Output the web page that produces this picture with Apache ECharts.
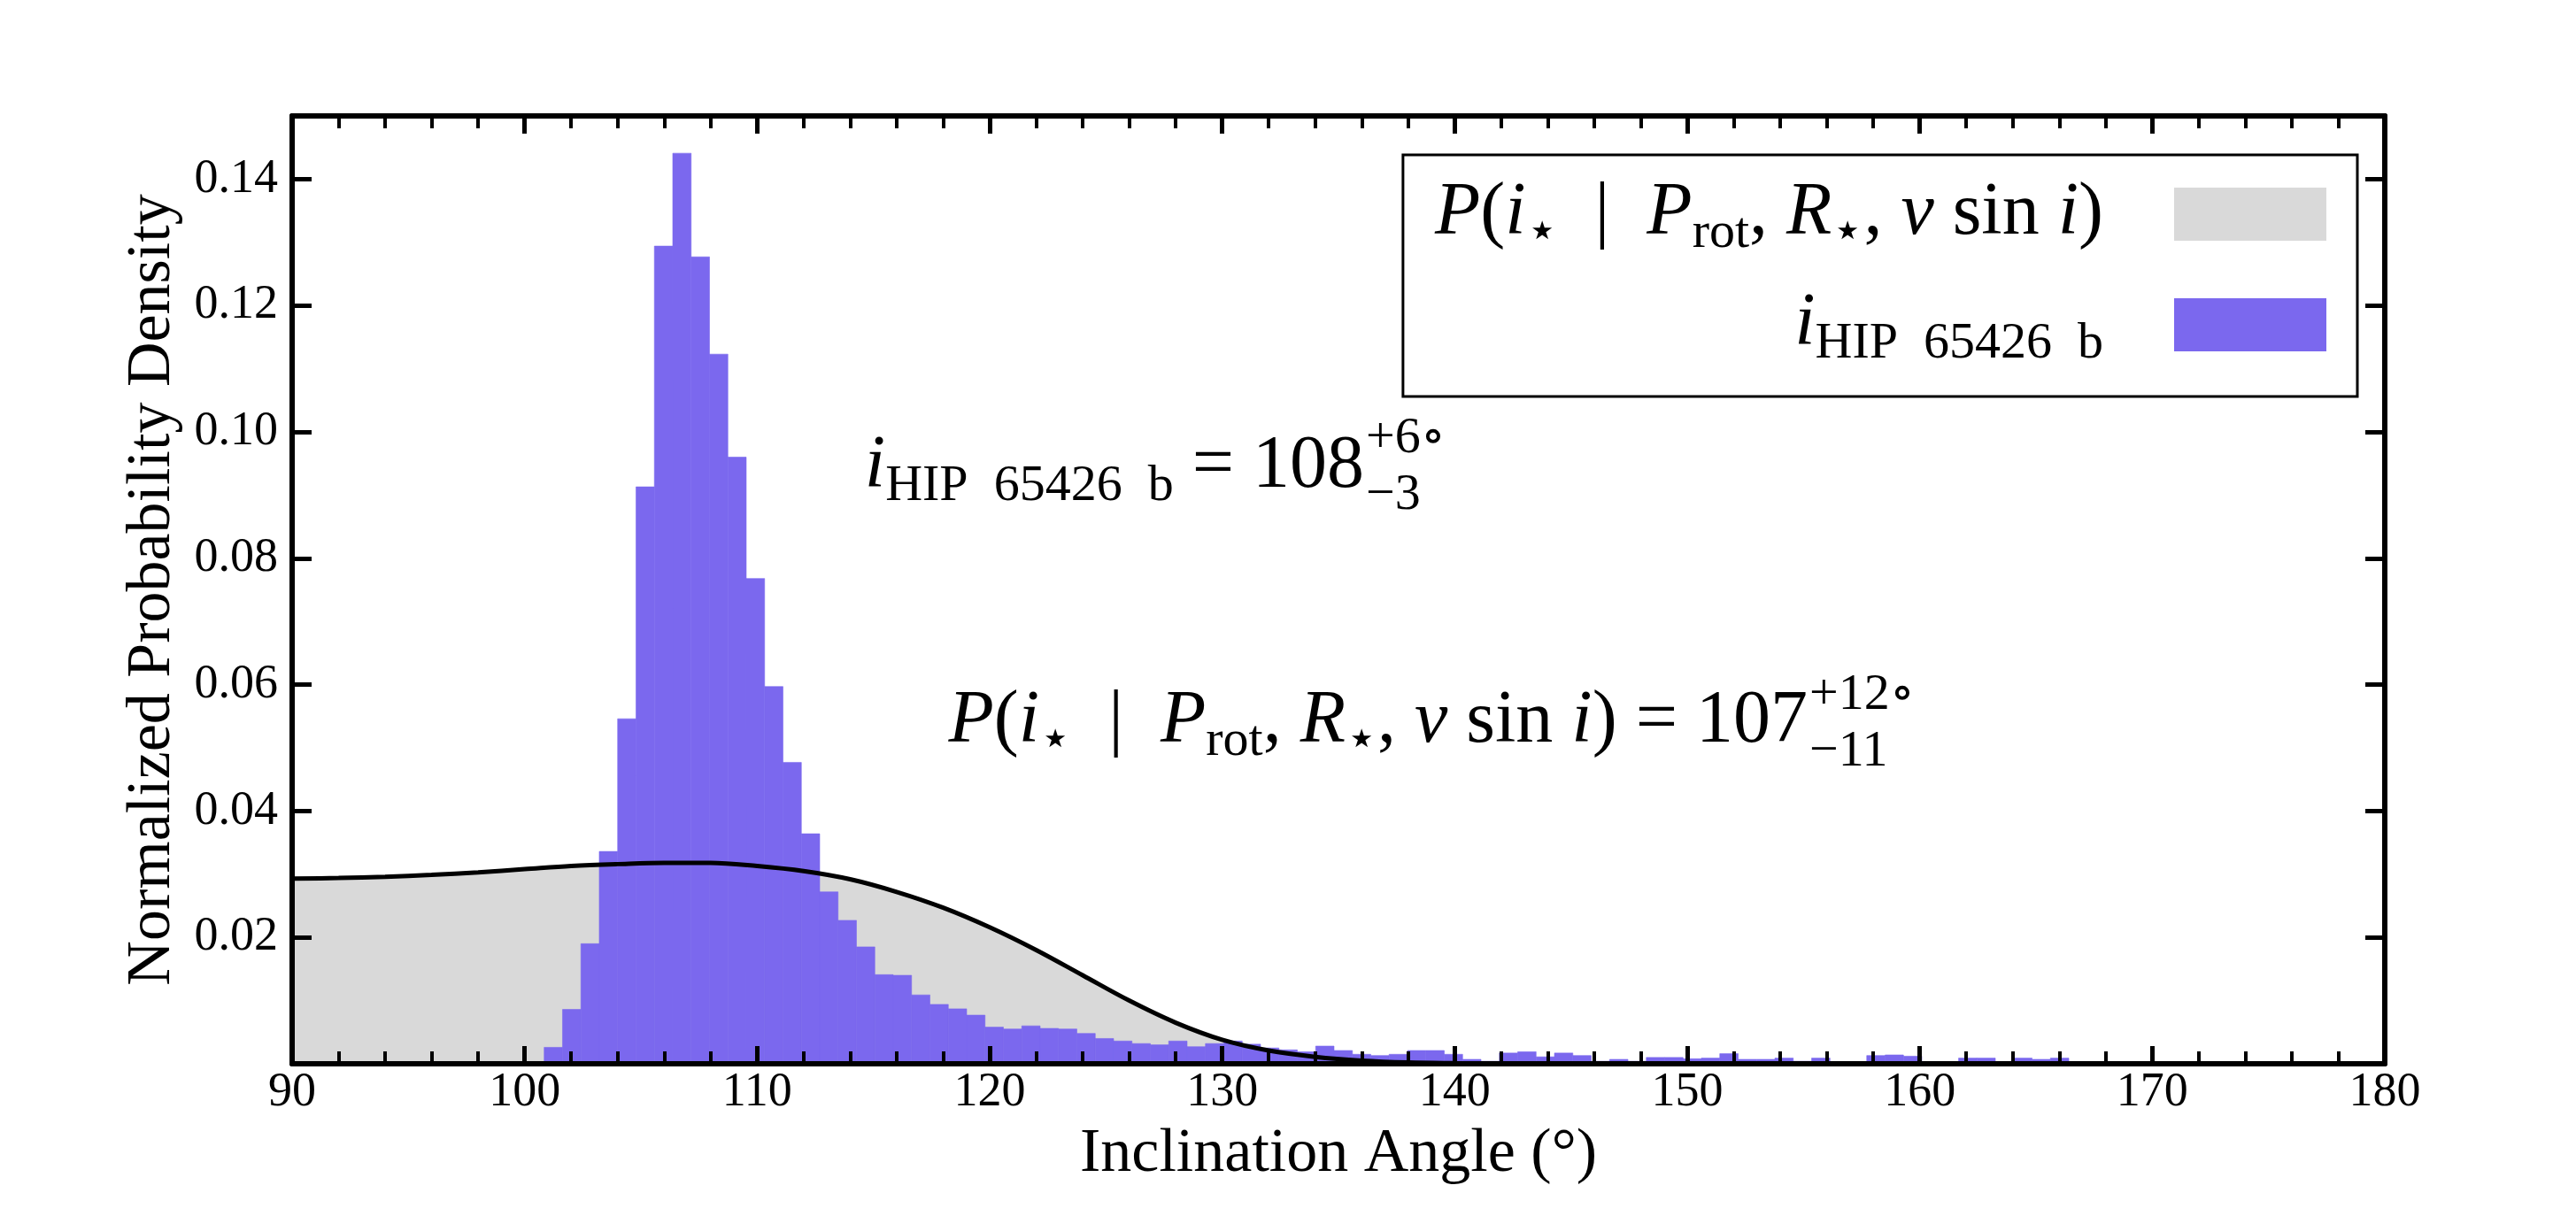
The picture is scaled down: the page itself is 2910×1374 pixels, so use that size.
<!DOCTYPE html>
<html>
<head>
<meta charset="utf-8">
<script src="https://cdn.jsdelivr.net/npm/echarts@6/dist/echarts.min.js"></script>
<style>
  html, body { margin: 0; padding: 0; background: #fff; }
  #chart { width: 2910px; height: 1374px; }
</style>
</head>
<body>
<div id="chart"></div>
<script>
// histogram of the planet inclination (100 bins, left edge + width)
const binStart = 100.84;
const binWidth = 0.79;
const binHeights = [
  0.0026, 0.0086, 0.0190, 0.0336, 0.0546, 0.0913, 0.1294, 0.1441, 0.1277, 0.1123,
  0.0960, 0.0768, 0.0597, 0.0477, 0.0364, 0.0272, 0.0227, 0.0185, 0.0141, 0.0140,
  0.0109, 0.0094, 0.0087, 0.0077, 0.0058, 0.0055, 0.0060, 0.0056, 0.0055, 0.0048,
  0.0040, 0.0036, 0.0032, 0.0030, 0.0036, 0.0027, 0.0032, 0.0036, 0.0031, 0.0025,
  0.0022, 0.0019, 0.0028, 0.0021, 0.0015, 0.0013, 0.0015, 0.0021, 0.0021, 0.0015,
  0.0007, 0.0004, 0.0017, 0.0019, 0.0011, 0.0017, 0.0013, 0.0004, 0.0007, 0.0004,
  0.0010, 0.0010, 0.0008, 0.0009, 0.0016, 0.0007, 0.0007, 0.0009, 0.0004, 0.0009,
  0.0003, 0.0003, 0.0013, 0.0014, 0.0012, 0.0003, 0.0003, 0.0009, 0.0009, 0.0003,
  0.0009, 0.0007, 0.0009, 0.0003, 0.0002, 0.0003, 0.0001, 0.0002, 0.0001, 0.0002,
  0.0001, 0.0001, 0.0002, 0.0001, 0.0001, 0.0001, 0.0001, 0.0000, 0.0001, 0.0001
];

// stellar inclination posterior (smooth curve)
const curveAngles = [90, 92, 94, 96, 98, 100, 102, 104, 106, 108, 110, 112, 114, 116, 118,
  120, 122, 124, 126, 128, 130, 132, 134, 136, 138, 140, 142, 144, 146, 150, 160, 170, 180];
const curveDensity = [0.0293, 0.0294, 0.0296, 0.0299, 0.0303, 0.0308, 0.0313, 0.0316, 0.0318,
  0.0318, 0.0313, 0.0305, 0.0292, 0.0272, 0.0247, 0.0216, 0.0180, 0.0140, 0.0100, 0.0065,
  0.0038, 0.0021, 0.0011, 0.0005, 0.0002, 0.0001, 0.00005, 0, 0, 0, 0, 0, 0];

const xMin = 90, xMax = 180, xStep = 10;
const yMin = 0, yMax = 0.15, yStep = 0.02;

const FONT = "'Liberation Serif', 'DejaVu Serif', serif";
const PURPLE = '#7b68ee';
const GREY = '#d9d9d9';

const priorName = 'P(i⋆ | Prot, R⋆, v sin i)';
const planetName = 'i HIP 65426 b';

const mathRich = {
  it: { fontFamily: FONT, fontSize: 84, fontStyle: 'italic', color: '#000' },
  rm: { fontFamily: FONT, fontSize: 84, color: '#000' },
  sub: { fontFamily: FONT, fontSize: 58, color: '#000', padding: [44, 0, 0, 0] },
  gap: { width: 75 }
};
const priorRich = '{it|P}{rm|(}{it|i}{sub|⋆}{rm|  |  }{it|P}{sub|rot}{rm|, }{it|R}{sub|⋆}{rm|, }{it|v}{rm| sin }{it|i}{rm|)}';
const planetRich = '{it|i}{sub|HIP  65426  b}';

const binData = binHeights.map((h, i) => [binStart + i * binWidth, binStart + (i + 1) * binWidth, h]);
const curveData = curveAngles.map((a, i) => [a, curveDensity[i]]);

const chart = echarts.init(document.getElementById('chart'));

const axisCommon = {
  type: 'value',
  z: 10,
  splitLine: { show: false },
  axisLine: { show: true, onZero: false, lineStyle: { color: '#000', width: 6 } },
  axisTick: { show: true, inside: true, length: 20, lineStyle: { color: '#000', width: 5 } }
};

chart.setOption({
  animation: false,
  backgroundColor: '#fff',
  grid: { left: 330, right: 216, top: 131, bottom: 172 },
  xAxis: [
    Object.assign({}, axisCommon, {
      min: xMin, max: xMax, interval: xStep, position: 'bottom',
      minorTick: { show: true, splitNumber: 5, length: 14, lineStyle: { color: '#000', width: 4 } },
      axisLabel: { fontFamily: FONT, fontSize: 54, color: '#000', margin: 6 },
      name: 'Inclination Angle (°)', nameLocation: 'middle', nameGap: 68,
      nameTextStyle: { fontFamily: FONT, fontSize: 70, color: '#000' }
    }),
    Object.assign({}, axisCommon, {
      min: xMin, max: xMax, interval: xStep, position: 'top',
      minorTick: { show: true, splitNumber: 5, length: 14, lineStyle: { color: '#000', width: 4 } },
      axisLabel: { show: false }
    })
  ],
  yAxis: [
    Object.assign({}, axisCommon, {
      min: yMin, max: yMax, interval: yStep, position: 'left',
      axisTick: { show: true, inside: true, length: 22, lineStyle: { color: '#000', width: 5 } },
      axisLabel: {
        fontFamily: FONT, fontSize: 54, color: '#000', margin: 16,
        formatter: v => {
          const k = v / yStep;
          return (v > 0 && Math.abs(k - Math.round(k)) < 1e-6) ? v.toFixed(2) : '';
        }
      },
      name: 'Normalized Probability Density', nameLocation: 'middle', nameGap: 122,
      nameTextStyle: { fontFamily: FONT, fontSize: 70, color: '#000' }
    }),
    Object.assign({}, axisCommon, {
      min: yMin, max: yMax, interval: yStep, position: 'right',
      axisTick: { show: true, inside: true, length: 22, lineStyle: { color: '#000', width: 5 } },
      axisLabel: { show: false }
    })
  ],
  legend: {
    orient: 'vertical', right: 247, top: 175, align: 'right',
    icon: 'rect', itemWidth: 172, itemHeight: 60, itemGap: 32,
    padding: [25, 35, 30, 36],
    borderColor: '#000', borderWidth: 3, borderRadius: 0, backgroundColor: '#fff',
    selectedMode: false,
    data: [
      { name: priorName, itemStyle: { color: GREY } },
      { name: planetName, itemStyle: { color: PURPLE } }
    ],
    formatter: name => (name === priorName ? priorRich : planetRich) + '{gap| }',
    textStyle: { fontFamily: FONT, color: '#000', rich: mathRich }
  },
  series: [
    {
      name: priorName, type: 'line', data: curveData, smooth: 0.35,
      symbol: 'none', z: 1, silent: true,
      itemStyle: { color: GREY },
      lineStyle: { width: 0, color: GREY },
      areaStyle: { color: GREY, opacity: 1 }
    },
    {
      name: planetName, type: 'custom', z: 2, silent: true,
      data: binData,
      encode: { x: [0, 1], y: 2 },
      itemStyle: { color: PURPLE },
      renderItem: (params, api) => {
        const p0 = api.coord([api.value(0), api.value(2)]);
        const p1 = api.coord([api.value(1), 0]);
        return {
          type: 'rect',
          shape: { x: p0[0], y: p0[1], width: p1[0] - p0[0], height: p1[1] - p0[1] },
          style: { fill: PURPLE, stroke: PURPLE, lineWidth: 0.6 }
        };
      }
    },
    {
      name: 'curve', type: 'line', data: curveData, smooth: 0.35,
      symbol: 'none', z: 3, silent: true,
      lineStyle: { width: 5, color: '#000' }
    }
  ],
  graphic: [
    {
      type: 'text', x: 1541, y: 528, z: 20,
      style: { text: '{it|i}{sub|HIP  65426  b}{rm| = 108}', rich: mathRich, align: 'right', verticalAlign: 'middle' }
    },
    {
      type: 'text', x: 1543, y: 528, z: 20,
      style: { text: '+6∘\n−3', fontFamily: FONT, fontSize: 58, lineHeight: 64, fill: '#000', align: 'left', verticalAlign: 'middle' }
    },
    {
      type: 'text', x: 2042, y: 816, z: 20,
      style: { text: priorRich + '{rm| = 107}', rich: mathRich, align: 'right', verticalAlign: 'middle' }
    },
    {
      type: 'text', x: 2044, y: 818, z: 20,
      style: { text: '+12∘\n−11', fontFamily: FONT, fontSize: 58, lineHeight: 64, fill: '#000', align: 'left', verticalAlign: 'middle' }
    }
  ]
});
</script>
</body>
</html>
